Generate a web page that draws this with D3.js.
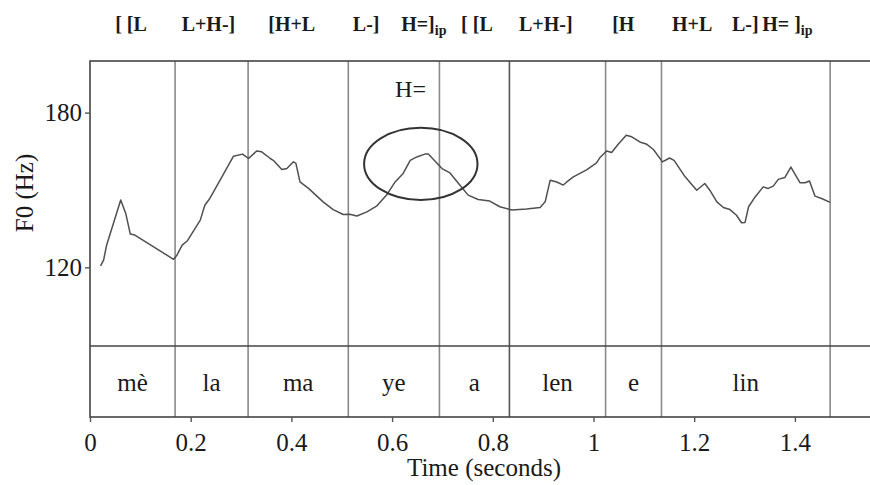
<!DOCTYPE html>
<html>
<head>
<meta charset="utf-8">
<script src="https://cdn.jsdelivr.net/npm/d3@7"></script>
<style>
  body { margin: 0; background: #fff; }
  text { font-family: "Liberation Serif", "Times New Roman", serif; fill: #1a1a1a; }
</style>
</head>
<body>
<div id="chart"></div>
<script>

// F0 track (time in s, pitch in Hz)
const f0Track = [
  [0.021,120.6],[0.027,122.8],[0.033,128.6],[0.061,146.1],[0.071,140.9],[0.080,132.9],
  [0.089,132.5],[0.166,123.1],[0.173,124.8],[0.183,128.6],[0.193,130.2],[0.219,138.3],
  [0.228,144.1],[0.238,146.7],[0.262,155.1],[0.285,163.1],[0.303,163.9],[0.315,162.2],
  [0.331,165.1],[0.341,164.8],[0.358,162.2],[0.364,161.5],[0.381,157.9],[0.391,158.3],
  [0.404,160.9],[0.409,160.3],[0.417,153.1],[0.434,150.6],[0.463,145.4],[0.483,142.4],
  [0.503,140.5],[0.516,140.6],[0.530,139.9],[0.550,141.5],[0.569,143.7],[0.589,148.0],
  [0.606,153.1],[0.622,156.4],[0.636,161.5],[0.649,162.8],[0.665,163.9],[0.672,163.9],
  [0.685,161.2],[0.699,158.3],[0.715,156.6],[0.732,152.5],[0.751,148.0],[0.771,146.3],
  [0.794,145.7],[0.814,143.5],[0.838,142.2],[0.867,142.6],[0.894,143.2],[0.904,145.4],
  [0.914,153.8],[0.927,153.1],[0.940,151.9],[0.947,153.1],[0.960,155.1],[0.987,157.9],
  [1.006,160.5],[1.013,162.6],[1.026,165.1],[1.036,164.5],[1.049,167.7],[1.065,171.2],
  [1.076,170.6],[1.092,168.6],[1.106,167.7],[1.119,165.7],[1.137,160.9],[1.151,162.4],
  [1.160,161.5],[1.182,155.1],[1.205,149.9],[1.221,152.5],[1.231,149.9],[1.245,145.4],
  [1.258,143.2],[1.271,142.4],[1.284,140.2],[1.294,137.3],[1.301,137.4],[1.308,143.5],
  [1.321,147.3],[1.337,151.2],[1.347,150.6],[1.357,151.5],[1.367,154.1],[1.380,154.8],
  [1.392,158.9],[1.410,152.8],[1.420,152.8],[1.429,153.5],[1.440,147.6],[1.453,146.7],
  [1.470,145.2]
];

// syllable tier
const boundaries = [0.169, 0.314, 0.513, 0.694, 0.833, 1.024, 1.135, 1.470];
const ipBoundary = 0.833;
const syllables = ["mè", "la", "ma", "ye", "a", "len", "e", "lin"];

// tone labels above the plot, anchored at a time
const tones = ["[ [L", "L+H-]", "[H+L", "L-]", "H=]", "[ [L", "L+H-]", "[H", "H+L", "L-]", "H= ]"];
const toneTimes = [0.050, 0.182, 0.354, 0.522, 0.618, 0.737, 0.852, 1.037, 1.156, 1.275, 1.335];
const ipAfter = [4, 10];   // tone labels followed by subscript "ip"

const xTicks = [0, 0.2, 0.4, 0.6, 0.8, 1, 1.2, 1.4];
const yTicks = [120, 180];

// circled peak annotation
const peakNote = {label: "H=", t: 0.606, f: 185.9};
const peakEllipse = {t: 0.657, f: 160.1, dt: 0.1126, df: 14};

const width = 870;
const height = 485;
const plot = {left: 90, top: 61, split: 346, bottom: 417};

const svg = d3.select("#chart")
  .append("svg")
  .attr("width", width)
  .attr("height", height);

const x = d3.scaleLinear().domain([0, 1.6]).range([plot.left, plot.left + 1.6 * 503.5]);
const y = d3.scaleLinear().domain([89.5, 200]).range([plot.split, plot.top]);

// syllable boundaries run through both panels
svg.selectAll(".bound")
  .data(boundaries)
  .enter()
  .append("line")
    .attr("x1", d => x(d)).attr("x2", d => x(d))
    .attr("y1", plot.top).attr("y2", plot.bottom)
    .attr("stroke", d => d === ipBoundary ? "#555" : "#8a8a8a")
    .attr("stroke-width", 1.6);

// frame
const frame = svg.append("g").attr("stroke", "#444").attr("stroke-width", 1.6).attr("fill", "none");
frame.append("rect")
  .attr("x", plot.left).attr("y", plot.top)
  .attr("width", x(1.6) - plot.left).attr("height", plot.bottom - plot.top);
frame.append("line")
  .attr("x1", plot.left).attr("x2", x(1.6))
  .attr("y1", plot.split).attr("y2", plot.split);

// F0 curve
const line = d3.line().x(d => x(d[0])).y(d => y(d[1]));
svg.append("path")
  .datum(f0Track)
  .attr("d", line)
  .attr("fill", "none")
  .attr("stroke", "#505050")
  .attr("stroke-width", 1.5)
  .attr("stroke-linejoin", "round");

// ellipse + label
svg.append("ellipse")
  .attr("cx", x(peakEllipse.t)).attr("cy", y(peakEllipse.f))
  .attr("rx", x(peakEllipse.dt) - x(0)).attr("ry", y(peakEllipse.f - peakEllipse.df) - y(peakEllipse.f))
  .attr("fill", "none").attr("stroke", "#333").attr("stroke-width", 2);
svg.append("text")
  .attr("x", x(peakNote.t)).attr("y", y(peakNote.f))
  .attr("font-size", "24px")
  .text(peakNote.label);

// syllable labels
const edges = [0].concat(boundaries);
svg.selectAll(".syl")
  .data(syllables)
  .enter()
  .append("text")
    .attr("x", (d, i) => (x(edges[i]) + x(edges[i + 1])) / 2)
    .attr("y", 391)
    .attr("text-anchor", "middle")
    .attr("font-size", "25px")
    .text(d => d);

// axes
const yAxis = svg.append("g")
  .attr("transform", `translate(${plot.left},0)`)
  .call(d3.axisLeft(y).tickValues(yTicks).tickSize(5).tickPadding(3));
const xAxis = svg.append("g")
  .attr("transform", `translate(0,${plot.bottom})`)
  .call(d3.axisBottom(x).tickValues(xTicks).tickSize(5).tickPadding(11).tickFormat(d3.format("")));
[yAxis, xAxis].forEach(g => {
  g.select(".domain").remove();
  g.selectAll("line").attr("stroke", "#555").attr("stroke-width", 1.4);
  g.selectAll("text").attr("font-size", "25px").attr("fill", "#1a1a1a");
});

svg.append("text")
  .attr("transform", "translate(33,193) rotate(-90)")
  .attr("text-anchor", "middle")
  .attr("font-size", "25px")
  .text("F0 (Hz)");

svg.append("text")
  .attr("x", 484).attr("y", 476)
  .attr("text-anchor", "middle")
  .attr("font-size", "25px")
  .text("Time (seconds)");

// tone labels on top
const toneText = svg.selectAll(".tone")
  .data(tones)
  .enter()
  .append("text")
    .attr("x", (d, i) => x(toneTimes[i]))
    .attr("y", 31)
    .attr("font-size", "20px")
    .attr("font-weight", "bold")
    .attr("xml:space", "preserve")
    .text(d => d);
toneText.filter((d, i) => ipAfter.includes(i))
  .append("tspan")
    .attr("dy", 4)
    .attr("font-size", "14px")
    .text("ip");

</script>
</body>
</html>
